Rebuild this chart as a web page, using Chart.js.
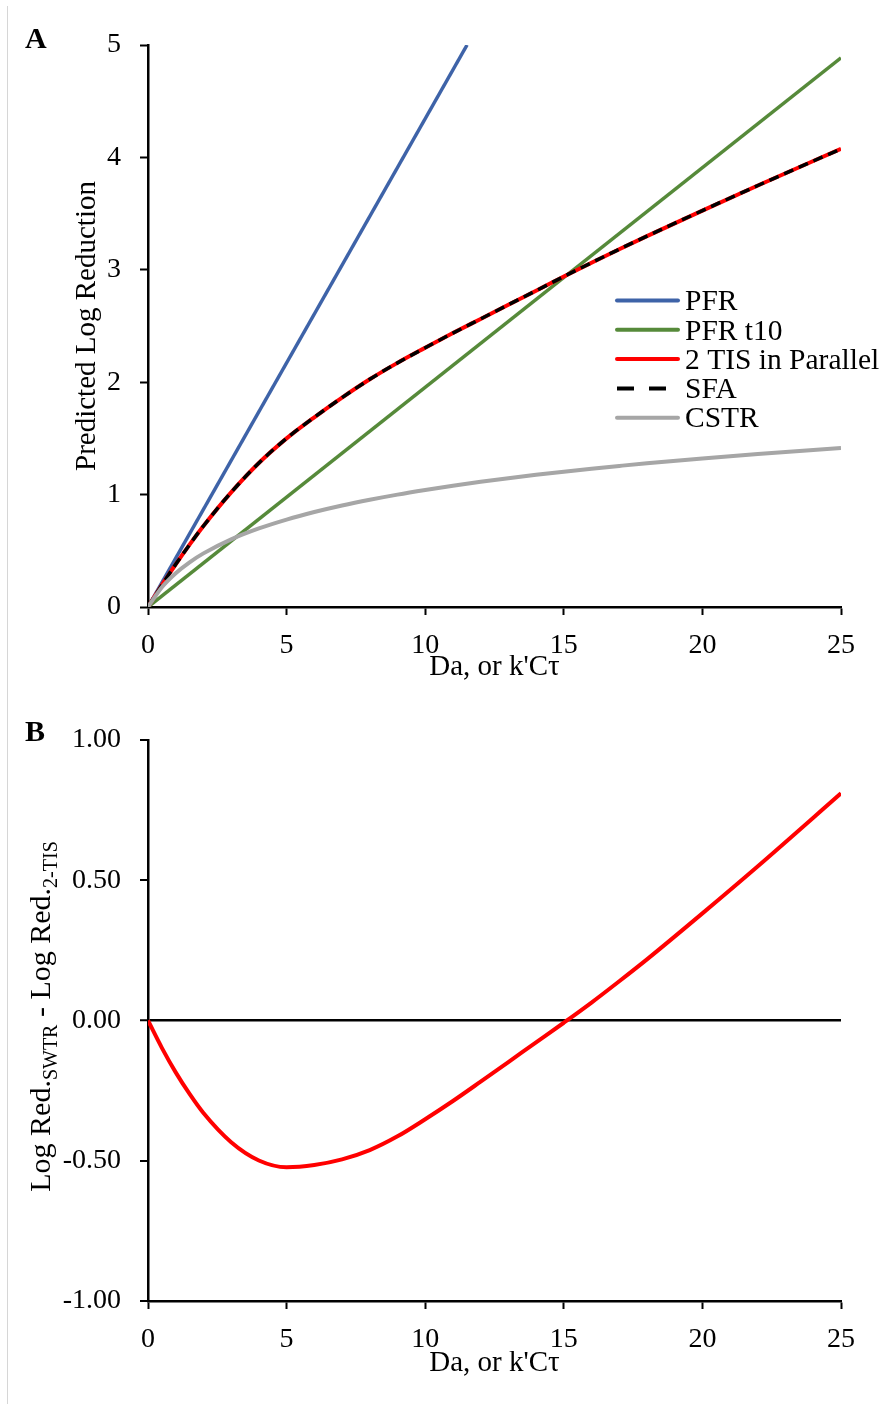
<!DOCTYPE html>
<html>
<head>
<meta charset="utf-8">
<script src="https://cdn.jsdelivr.net/npm/chart.js@4.4.0/dist/chart.umd.min.js"></script>
<style>
  html, body { margin: 0; padding: 0; background: #fff; }
  #page { position: relative; width: 886px; height: 1404px; overflow: hidden; background: #fff; }
  #edge { position: absolute; left: 7px; top: 6px; bottom: 0; width: 1px; background: #d6d6d6; }
  #wrapA { position: absolute; left: 0; top: 0; width: 886px; height: 700px; }
  #wrapB { position: absolute; left: 0; top: 700px; width: 886px; height: 704px; }
  canvas { display: block; }
</style>
</head>
<body>
<div id="page">
  <div id="edge"></div>
  <div id="wrapA"><canvas id="chartA" width="886" height="700"></canvas></div>
  <div id="wrapB"><canvas id="chartB" width="886" height="704"></canvas></div>
</div>
<script>
// ---- data ----
const daPoints      = [0, 0.5, 1, 1.5, 2, 3, 4, 5, 6, 7, 8, 9, 10, 11, 12, 13, 14, 15, 16, 17, 18, 20, 22, 25];
const pfrDa         = [0, 11.51];
const pfrLogRed     = [0, 5];
const pfrT10Da      = [0, 25];
const pfrT10LogRed  = [0, 4.886];
const tisLogRed     = [0, 0.195, 0.380, 0.555, 0.721, 1.020, 1.281, 1.500, 1.688, 1.863, 2.026, 2.172, 2.306, 2.437, 2.563, 2.689, 2.814, 2.940, 3.063, 3.183, 3.300, 3.527, 3.750, 4.076];
const cstrLogRed    = [0, 0.176, 0.301, 0.398, 0.477, 0.602, 0.699, 0.778, 0.845, 0.903, 0.954, 1.0, 1.041, 1.079, 1.114, 1.146, 1.176, 1.204, 1.23, 1.255, 1.279, 1.322, 1.362, 1.415];
const swtrMinusTis  = [0, -0.0975, -0.185, -0.262, -0.33, -0.434, -0.499, -0.523, -0.515, -0.495, -0.462, -0.413, -0.352, -0.287, -0.218, -0.148, -0.078, -0.008, 0.064, 0.14, 0.218, 0.382, 0.55, 0.81];
const daTicks       = [0, 5, 10, 15, 20, 25];
const logRedTicks   = [0, 1, 2, 3, 4, 5];
const diffTicks     = [-1, -0.5, 0, 0.5, 1];
const seriesNames   = ['PFR', 'PFR t10', '2 TIS in Parallel', 'SFA', 'CSTR'];

// ---- styling ----
const FONT = "'Liberation Serif', 'Times New Roman', Times, serif";
const TICK_SIZE = 28;
const TITLE_SIZE = 29;
const COLORS = { pfr: '#3E63A8', t10: '#568A3A', tis: '#FF0000', sfa: '#000000', cstr: '#A6A6A6' };

Chart.defaults.font.family = FONT;
Chart.defaults.color = '#000';

const pts = (xs, ys) => xs.map((x, i) => ({ x: x, y: ys[i] }));

function axisX(boxHeight, titlePadBottom) {
  return {
    type: 'linear',
    min: daTicks[0],
    max: daTicks[daTicks.length - 1],
    ticks: { stepSize: daTicks[1] - daTicks[0], font: { size: TICK_SIZE }, color: '#000', padding: 14, maxRotation: 0 },
    grid: { drawOnChartArea: false, drawTicks: true, tickLength: 8, tickColor: '#000', tickWidth: 2 },
    border: { display: true, color: '#000', width: 2.5 },
    title: { display: true, text: "Da, or k'C\u03C4", font: { size: TITLE_SIZE }, color: '#000', padding: { top: 0, bottom: titlePadBottom } },
    afterFit: s => { s.height = boxHeight; }
  };
}

// legend drawn inside the plot area of panel A
const insideLegend = {
  id: 'insideLegend',
  afterDatasetsDraw(chart, args, o) {
    if (!o || !o.items) return;
    const ctx = chart.ctx;
    ctx.save();
    ctx.font = o.size + 'px ' + FONT;
    ctx.fillStyle = '#000';
    ctx.textAlign = 'left';
    ctx.textBaseline = 'alphabetic';
    o.items.forEach((it, i) => {
      const ds = chart.data.datasets[it.index];
      const y = o.y + i * o.gap;
      ctx.beginPath();
      ctx.strokeStyle = ds.borderColor;
      ctx.lineWidth = 4;
      ctx.lineCap = it.dash ? 'butt' : 'round';
      ctx.setLineDash(it.dash || []);
      ctx.moveTo(o.x, y);
      ctx.lineTo(o.x + o.len, y);
      ctx.stroke();
      ctx.setLineDash([]);
      ctx.fillText(ds.label, o.x + o.len + o.textGap, y + o.size * 0.33);
    });
    ctx.restore();
  }
};

// panel letter in the top-left corner
const panelLetter = {
  id: 'panelLetter',
  afterDraw(chart, args, o) {
    if (!o || !o.text) return;
    const ctx = chart.ctx;
    ctx.save();
    ctx.font = 'bold ' + o.size + 'px ' + FONT;
    ctx.fillStyle = '#000';
    ctx.textAlign = 'left';
    ctx.textBaseline = 'alphabetic';
    ctx.fillText(o.text, o.x, o.y);
    ctx.restore();
  }
};

// rotated y-axis title with subscripts
const subscriptTitle = {
  id: 'subscriptTitle',
  afterDraw(chart, args, o) {
    if (!o || !o.parts) return;
    const ctx = chart.ctx;
    const area = chart.chartArea;
    const cy = (area.top + area.bottom) / 2 + (o.dy || 0);
    ctx.save();
    ctx.translate(o.x, cy);
    ctx.rotate(-Math.PI / 2);
    ctx.fillStyle = '#000';
    ctx.textBaseline = 'alphabetic';
    ctx.textAlign = 'left';
    const fontOf = p => (p.sub ? o.subSize : o.size) + 'px ' + FONT;
    let total = 0;
    o.parts.forEach(p => { ctx.font = fontOf(p); total += ctx.measureText(p.t).width; });
    let x = -total / 2;
    o.parts.forEach(p => {
      ctx.font = fontOf(p);
      ctx.fillText(p.t, x, p.sub ? o.subShift : 0);
      x += ctx.measureText(p.t).width;
    });
    ctx.restore();
  }
};

// ---- panel A ----
new Chart(document.getElementById('chartA'), {
  type: 'line',
  data: {
    datasets: [
      { label: seriesNames[0], data: pts(pfrDa, pfrLogRed), borderColor: COLORS.pfr, borderWidth: 3.5, order: 5 },
      { label: seriesNames[1], data: pts(pfrT10Da, pfrT10LogRed), borderColor: COLORS.t10, borderWidth: 3.5, order: 4 },
      { label: seriesNames[2], data: pts(daPoints, tisLogRed), borderColor: COLORS.tis, borderWidth: 4, order: 3, cubicInterpolationMode: 'monotone' },
      { label: seriesNames[3], data: pts(daPoints, tisLogRed), borderColor: COLORS.sfa, borderWidth: 3.5, borderDash: [10, 6], order: 2, cubicInterpolationMode: 'monotone' },
      { label: seriesNames[4], data: pts(daPoints, cstrLogRed), borderColor: COLORS.cstr, borderWidth: 4, order: 1, cubicInterpolationMode: 'monotone' }
    ]
  },
  options: {
    responsive: false,
    animation: false,
    devicePixelRatio: 1,
    layout: { padding: { left: 0, right: 45, top: 45, bottom: 0 } },
    elements: { point: { radius: 0, hoverRadius: 0 }, line: { borderCapStyle: 'butt', fill: false } },
    plugins: {
      legend: { display: false },
      tooltip: { enabled: false },
      insideLegend: {
        x: 617, len: 61, textGap: 7, y: 300.5, gap: 29.3, size: 29.5,
        items: [{ index: 0 }, { index: 1 }, { index: 2 }, { index: 3, dash: [17, 15] }, { index: 4 }]
      },
      panelLetter: { text: 'A', x: 25, y: 48, size: 30 }
    },
    scales: {
      x: axisX(93, 15),
      y: {
        type: 'linear',
        min: logRedTicks[0],
        max: logRedTicks[logRedTicks.length - 1],
        ticks: { stepSize: logRedTicks[1] - logRedTicks[0], font: { size: TICK_SIZE }, color: '#000', padding: 19 },
        grid: { drawOnChartArea: false, drawTicks: true, tickLength: 8, tickColor: '#000', tickWidth: 2 },
        border: { display: true, color: '#000', width: 2.5 },
        title: { display: true, text: 'Predicted Log Reduction', font: { size: TITLE_SIZE }, color: '#000', padding: { top: 70, bottom: 0 } },
        afterFit: s => { s.width = 148; }
      }
    }
  },
  plugins: [insideLegend, panelLetter]
});

// ---- panel B ----
new Chart(document.getElementById('chartB'), {
  type: 'line',
  data: {
    datasets: [
      { label: 'SWTR - 2 TIS', data: pts(daPoints, swtrMinusTis), borderColor: COLORS.tis, borderWidth: 4, cubicInterpolationMode: 'monotone' }
    ]
  },
  options: {
    responsive: false,
    animation: false,
    devicePixelRatio: 1,
    layout: { padding: { left: 0, right: 45, top: 40, bottom: 0 } },
    elements: { point: { radius: 0, hoverRadius: 0 }, line: { borderCapStyle: 'butt', fill: false } },
    plugins: {
      legend: { display: false },
      tooltip: { enabled: false },
      panelLetter: { text: 'B', x: 25, y: 41, size: 30 },
      subscriptTitle: {
        x: 50, dy: -4, size: 30, subSize: 20, subShift: 7,
        parts: [
          { t: 'Log Red.' }, { t: 'SWTR', sub: true },
          { t: ' - Log Red.' }, { t: '2-TIS', sub: true }
        ]
      }
    },
    scales: {
      x: axisX(103, 23),
      y: {
        type: 'linear',
        min: diffTicks[0],
        max: diffTicks[diffTicks.length - 1],
        ticks: { stepSize: diffTicks[1] - diffTicks[0], font: { size: TICK_SIZE }, color: '#000', padding: 19,
                 callback: v => Number(v).toFixed(2) },
        grid: {
          drawOnChartArea: true, drawTicks: true, tickLength: 8, tickColor: '#000', tickWidth: 2,
          color: c => (c.tick && c.tick.value === 0 ? '#000' : 'rgba(0,0,0,0)'),
          lineWidth: c => (c.tick && c.tick.value === 0 ? 2.5 : 0)
        },
        border: { display: true, color: '#000', width: 2.5 },
        title: { display: false },
        afterFit: s => { s.width = 148; }
      }
    }
  },
  plugins: [panelLetter, subscriptTitle]
});
</script>
</body>
</html>
